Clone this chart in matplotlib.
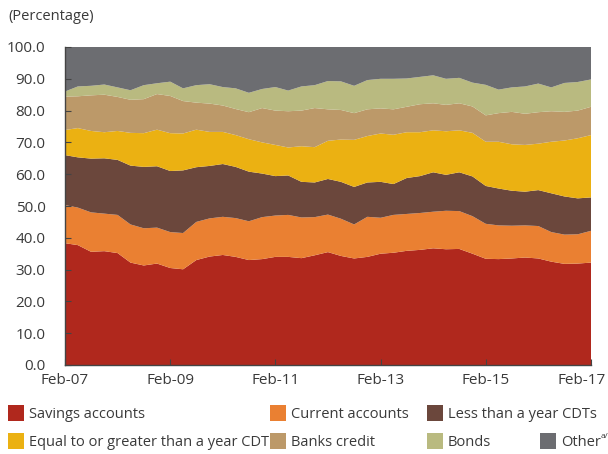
import matplotlib
matplotlib.use("Agg")
import matplotlib.pyplot as plt
import matplotlib.transforms as mtransforms
from matplotlib.patches import Rectangle
import pandas as pd

# Quarterly readings, Feb-2007 .. Feb-2017 (percent of total)
dates = pd.date_range("2007-02-01", periods=41, freq="3MS")

savings = [38.3, 37.7, 35.6, 35.8, 35.2, 32.2, 31.3, 31.9, 30.5, 30.1,
           33.0, 34.1, 34.6, 34.0, 33.0, 33.3, 34.0, 34.0, 33.6, 34.5,
           35.5, 34.3, 33.5, 34.0, 35.0, 35.3, 35.9, 36.2, 36.7, 36.4,
           36.5, 35.0, 33.4, 33.3, 33.5, 33.8, 33.5, 32.5, 31.8, 31.9, 32.2]
current = [12.0, 11.8, 12.4, 11.8, 12.0, 12.0, 11.7, 11.3, 11.3, 11.4,
           12.0, 12.0, 12.0, 12.2, 12.2, 13.2, 13.0, 13.2, 12.8, 12.0,
           11.8, 11.7, 10.7, 12.6, 11.3, 11.9, 11.6, 11.6, 11.5, 12.1,
           11.9, 11.8, 11.0, 10.6, 10.3, 10.1, 10.2, 9.3, 9.2, 9.2, 10.0]
cdt_short = [15.7, 15.8, 16.9, 17.4, 17.3, 18.5, 19.3, 19.3, 19.2, 19.7,
             17.2, 16.5, 16.6, 16.1, 15.6, 13.7, 12.4, 12.4, 11.2, 10.9,
             11.2, 11.6, 11.8, 10.8, 11.3, 9.7, 11.3, 11.6, 12.4, 11.3,
             12.2, 12.5, 11.9, 11.6, 11.0, 10.6, 11.3, 12.2, 12.0, 11.3, 10.5]
cdt_long = [7.9, 9.2, 8.7, 8.2, 9.1, 10.3, 10.6, 11.5, 11.9, 11.6,
            11.8, 10.7, 10.1, 10.0, 10.2, 9.8, 9.8, 8.8, 11.2, 11.1,
            12.0, 13.3, 14.8, 14.6, 15.2, 15.5, 14.4, 13.8, 13.2, 13.7,
            13.2, 13.7, 13.9, 14.7, 14.6, 14.7, 14.6, 16.2, 17.6, 18.9, 19.6]
banks = [10.5, 10.0, 11.2, 11.8, 10.7, 10.4, 10.7, 11.2, 11.7, 10.2,
         8.5, 8.9, 8.3, 8.2, 8.5, 10.8, 10.8, 11.4, 11.2, 12.3,
         9.9, 9.3, 8.4, 8.4, 7.9, 8.0, 8.0, 8.8, 8.5, 8.3,
         8.5, 8.3, 8.3, 9.0, 10.2, 9.8, 9.9, 9.6, 9.0, 8.7, 8.9]
bonds = [1.6, 3.1, 3.0, 3.2, 3.0, 3.0, 4.4, 3.4, 4.5, 4.0,
         5.5, 6.1, 5.8, 6.5, 6.1, 6.0, 7.4, 6.5, 7.6, 7.2,
         8.9, 9.0, 8.6, 9.2, 9.3, 9.6, 8.9, 8.6, 8.8, 8.2,
         8.0, 7.5, 9.6, 7.4, 7.7, 8.6, 9.0, 7.5, 9.1, 9.0, 8.6]
other = [14.0, 12.4, 12.2, 11.8, 12.7, 13.6, 12.0, 11.4, 10.9, 13.0,
         12.0, 11.7, 12.6, 13.0, 14.4, 13.2, 12.6, 13.7, 12.4, 12.0,
         10.7, 10.8, 12.2, 10.4, 10.0, 10.0, 9.9, 9.4, 8.9, 10.0,
         9.7, 11.2, 11.9, 13.4, 12.7, 12.4, 11.5, 12.7, 11.3, 11.0, 10.2]

labels = ["Savings accounts", "Current accounts", "Less than a year CDTs",
          "Equal to or greater than a year CDT", "Banks credit", "Bonds", "Other"]
colors = ["#B0281D", "#EA8032", "#6B473C", "#EBB112", "#BC9969", "#B9BA80", "#6C6D71"]

x_tick_labels = ["Feb-07", "Feb-09", "Feb-11", "Feb-13", "Feb-15", "Feb-17"]
y_ticks = [0, 10, 20, 30, 40, 50, 60, 70, 80, 90, 100]

plt.rcParams["font.family"] = ["Open Sans", "DejaVu Sans"]
txt = "#3a3a3a"

fig = plt.figure(figsize=(6.08, 4.54), dpi=100)
ax = fig.add_axes([65 / 608, 1 - 365 / 454, (591 - 65) / 608, (365 - 47) / 454])

ax.stackplot(dates, savings, current, cdt_short, cdt_long, banks, bonds, other,
             colors=colors, linewidth=0)

ax.set_xlim(dates[0], dates[-1])
ax.set_ylim(0, 100)
ax.set_yticks(y_ticks)
ax.set_yticklabels([f"{v:.1f}" for v in y_ticks])
tick_dates = [pd.Timestamp(f"20{l[-2:]}-02-01") for l in x_tick_labels]
ax.set_xticks(tick_dates)
ax.set_xticklabels(x_tick_labels)

for s in ["top", "right"]:
    ax.spines[s].set_visible(False)
for s in ["left", "bottom"]:
    ax.spines[s].set_color("#444444")
    ax.spines[s].set_linewidth(1.0)
ax.tick_params(axis="both", direction="in", length=4, width=0.8, color="#444444",
               labelsize=11, labelcolor=txt)
ax.tick_params(axis="y", pad=14)
ax.tick_params(axis="x", pad=6)

# shift last x label left so it fits in the figure, as in the reference
last = ax.get_xticklabels()[-1]
last.set_transform(last.get_transform() +
                   mtransforms.ScaledTranslation(-9 / 100, 0, fig.dpi_scale_trans))

fig.text(8 / 608, 1 - 17 / 454, "(Percentage)", fontsize=10.5, color=txt,
         va="center", ha="left")

# Legend (manual layout)
col_x = [8, 270, 427, 540]
row_y = [413, 441]
entries = [(0, 0), (1, 0), (2, 0), (0, 1), (1, 1), (2, 1), (3, 1)]
for i, (c, r) in enumerate(entries):
    x0 = col_x[c]
    yc = row_y[r]
    fig.add_artist(Rectangle((x0 / 608, 1 - (yc + 8) / 454), 16 / 608, 16 / 454,
                             transform=fig.transFigure, facecolor=colors[i],
                             edgecolor="none"))
    fig.text((x0 + 21) / 608, 1 - (yc + 1) / 454, labels[i], fontsize=10.5,
             color=txt, va="center", ha="left")
    if labels[i] == "Other":
        fig.text((x0 + 61) / 608, 1 - (yc - 4) / 454, "a/", fontsize=6,
                 color=txt, va="center", ha="left")

fig.savefig("out.png", dpi=100)
